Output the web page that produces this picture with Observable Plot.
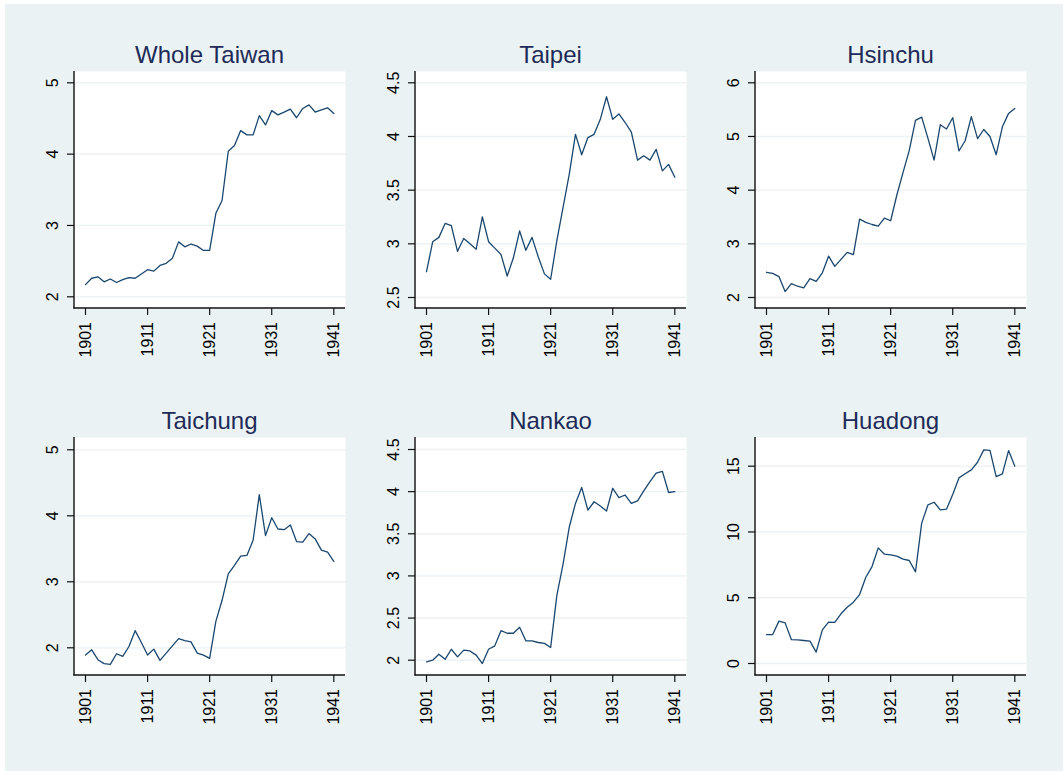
<!DOCTYPE html>
<html>
<head>
<meta charset="utf-8">
<script src="https://cdn.jsdelivr.net/npm/d3@7"></script>
<script src="https://cdn.jsdelivr.net/npm/@observablehq/plot@0.6"></script>
<style>
html, body { margin: 0; padding: 0; background: #ffffff; }
#chart { position: relative; width: 1063px; height: 771px; background: #ffffff; overflow: hidden;
  font-family: "Liberation Sans", Arial, sans-serif; }
#bg { position: absolute; left: 5px; top: 4px; right: 0; bottom: 0; background: #eaf2f3; }
.panel { position: absolute; }
.title { position: absolute; text-align: center; font-size: 24px; line-height: 24px;
  color: #1e2b58; white-space: nowrap; font-family: "Liberation Sans", Arial, sans-serif; }
</style>
</head>
<body>
<div id="chart"><div id="bg"></div></div>
<script>
// ---------------- DATA ----------------
const years = [1901,1902,1903,1904,1905,1906,1907,1908,1909,1910,
  1911,1912,1913,1914,1915,1916,1917,1918,1919,1920,
  1921,1922,1923,1924,1925,1926,1927,1928,1929,1930,
  1931,1932,1933,1934,1935,1936,1937,1938,1939,1940,1941];

const wholeTaiwan = [2.17,2.26,2.28,2.21,2.25,2.20,2.24,2.27,2.26,2.32,
  2.38,2.36,2.44,2.47,2.54,2.77,2.70,2.74,2.71,2.65,
  2.65,3.17,3.35,4.04,4.12,4.33,4.27,4.27,4.54,4.41,
  4.61,4.55,4.59,4.63,4.51,4.64,4.69,4.59,4.62,4.65,4.57];

const taipei = [2.74,3.02,3.06,3.19,3.17,2.93,3.05,3.00,2.95,3.25,
  3.02,2.96,2.90,2.70,2.87,3.12,2.94,3.06,2.88,2.72,
  2.67,3.03,3.34,3.65,4.02,3.83,3.99,4.02,4.16,4.37,
  4.16,4.21,4.13,4.04,3.78,3.82,3.78,3.88,3.68,3.74,3.62];

const hsinchu = [2.47,2.45,2.39,2.11,2.26,2.21,2.18,2.35,2.30,2.46,
  2.77,2.58,2.71,2.84,2.80,3.46,3.40,3.36,3.33,3.48,
  3.43,3.91,4.33,4.74,5.30,5.36,4.97,4.56,5.22,5.14,
  5.35,4.73,4.92,5.37,4.96,5.13,5.00,4.66,5.18,5.43,5.52];

const taichung = [1.89,1.97,1.82,1.76,1.75,1.91,1.87,2.02,2.26,2.08,
  1.89,1.98,1.81,1.92,2.03,2.14,2.11,2.09,1.92,1.89,
  1.84,2.40,2.72,3.12,3.25,3.39,3.40,3.63,4.32,3.70,
  3.97,3.80,3.79,3.86,3.61,3.60,3.73,3.65,3.48,3.45,3.31];

const nankao = [1.98,2.00,2.07,2.01,2.13,2.04,2.12,2.11,2.06,1.96,
  2.13,2.17,2.35,2.32,2.32,2.39,2.23,2.23,2.21,2.20,
  2.15,2.77,3.14,3.58,3.86,4.05,3.78,3.88,3.83,3.77,
  4.04,3.93,3.96,3.86,3.89,4.01,4.12,4.22,4.24,3.99,4.00];

const huadong = [2.20,2.20,3.22,3.09,1.82,1.80,1.75,1.70,0.86,2.56,
  3.14,3.12,3.78,4.28,4.66,5.24,6.56,7.37,8.79,8.31,
  8.26,8.16,7.93,7.83,6.97,10.67,12.06,12.26,11.68,11.73,
  12.85,14.11,14.42,14.72,15.30,16.24,16.21,14.21,14.42,16.19,15.00];

const titles = ["Whole Taiwan", "Taipei", "Hsinchu", "Taichung", "Nankao", "Huadong"];
const xTicks = [1901, 1911, 1921, 1931, 1941];
const yTicksWhole = [2, 3, 4, 5];
const yTicksTaipei = [2.5, 3, 3.5, 4, 4.5];
const yTicksHsinchu = [2, 3, 4, 5, 6];
const yTicksTaichung = [2, 3, 4, 5];
const yTicksNankao = [2, 2.5, 3, 3.5, 4, 4.5];
const yTicksHuadong = [0, 5, 10, 15];

// ---------------- LAYOUT ----------------
const colLeft = [0, 341, 681];
const rowLayout = [
  {top: 61, height: 307, titleTop: 42.7},
  {top: 427, height: 308, titleTop: 408.7}
];
const W = 355, ML = 74, MR = 10, MT = 10, MB = 60;
const xRange = [85, 333.3];

const panels = [
  {values: wholeTaiwan, yTicks: yTicksWhole,    yRange: [235.3, 21.3], col: 0, row: 0},
  {values: taipei,      yTicks: yTicksTaipei,   yRange: [236, 21.3],   col: 1, row: 0},
  {values: hsinchu,     yTicks: yTicksHsinchu,  yRange: [236, 21.3],   col: 2, row: 0},
  {values: taichung,    yTicks: yTicksTaichung, yRange: [220.3, 22.3], col: 0, row: 1},
  {values: nankao,      yTicks: yTicksNankao,   yRange: [232.7, 22],   col: 1, row: 1},
  {values: huadong,     yTicks: yTicksHuadong,  yRange: [236, 38.7],   col: 2, row: 1}
];

const chart = document.getElementById("chart");
const FONT = '"Liberation Sans", Arial, sans-serif';

panels.forEach((p, i) => {
  const rl = rowLayout[p.row];
  const H = rl.height;
  const data = years.map((yr, k) => ({year: yr, value: p.values[k]}));
  const yDomain = [d3.min(p.yTicks), d3.max(p.yTicks)];

  const svg = Plot.plot({
    width: W, height: H,
    marginLeft: ML, marginRight: MR, marginTop: MT, marginBottom: MB,
    style: {background: "transparent", fontFamily: FONT, fontSize: "16px", overflow: "visible", color: "#000"},
    x: {domain: [1901, 1941], range: xRange},
    y: {domain: yDomain, range: p.yRange},
    marks: [
      Plot.frame({fill: "white", stroke: "none"}),
      Plot.gridY(p.yTicks, {stroke: "#eaf2f3", strokeOpacity: 1, strokeWidth: 1.3}),
      Plot.line(data, {x: "year", y: "value", stroke: "#1a476f", strokeWidth: 1.3}),
      Plot.axisY(p.yTicks, {tickSize: 7, fill: "none", stroke: "#111", strokeWidth: 1.2}),
      Plot.axisX(xTicks, {tickSize: 7, fill: "none", stroke: "#111", strokeWidth: 1.2}),
      Plot.text(p.yTicks, {y: d => d, text: d => String(d), frameAnchor: "left", dx: -21.5,
        rotate: -90, textAnchor: "middle", lineAnchor: "middle", fontSize: 16, fill: "#000"}),
      Plot.text(xTicks, {x: d => d, text: d => String(d), frameAnchor: "bottom", dy: 13.5,
        rotate: -90, textAnchor: "end", lineAnchor: "middle", fontSize: 16, fill: "#000"})
    ]
  });

  // axis lines along the left and bottom edges of the plot region
  const s = d3.select(svg);
  s.append("line").attr("x1", ML).attr("x2", ML).attr("y1", MT).attr("y2", H - MB + 0.6)
    .attr("stroke", "#111").attr("stroke-width", 1.4);
  s.append("line").attr("x1", ML - 0.6).attr("x2", W - MR).attr("y1", H - MB).attr("y2", H - MB)
    .attr("stroke", "#111").attr("stroke-width", 1.4);

  const wrap = document.createElement("div");
  wrap.className = "panel";
  wrap.style.left = colLeft[p.col] + "px";
  wrap.style.top = rl.top + "px";
  wrap.appendChild(svg);
  chart.appendChild(wrap);

  const t = document.createElement("div");
  t.className = "title";
  t.textContent = titles[i];
  t.style.left = (colLeft[p.col] + ML) + "px";
  t.style.width = (W - ML - MR) + "px";
  t.style.top = rl.titleTop + "px";
  chart.appendChild(t);
});
</script>
</body>
</html>
